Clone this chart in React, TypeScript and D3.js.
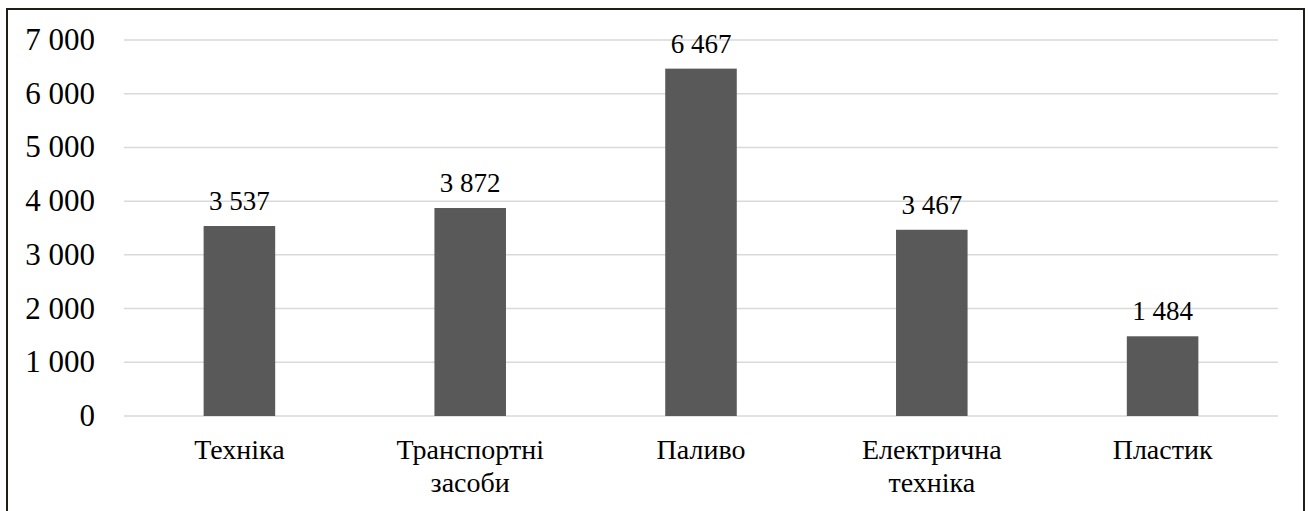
import React from "react";
import * as d3 from "d3";

const categories: string[][] = [
  ["Техніка"],
  ["Транспортні", "засоби"],
  ["Паливо"],
  ["Електрична", "техніка"],
  ["Пластик"],
];
const values: number[] = [3537, 3872, 6467, 3467, 1484];
const yTicks: number[] = [0, 1000, 2000, 3000, 4000, 5000, 6000, 7000];

const W = 1308;
const H = 511;
const plot = { left: 124, right: 1278, top: 40, bottom: 416 };
const FONT = "Liberation Serif";

const fmt = (v: number) => {
  const s = String(Math.round(v));
  return s.replace(/\B(?=(\d{3})+(?!\d))/g, " ");
};

export default function App() {
  const x = d3
    .scaleBand<number>()
    .domain(values.map((_, i) => i))
    .range([plot.left, plot.right])
    .paddingInner(0.69)
    .paddingOuter(0.345);
  const y = d3.scaleLinear().domain([0, 7000]).range([plot.bottom, plot.top]);

  return (
    <div style={{ position: "absolute", left: 0, top: 0 }}>
      <svg width={W} height={H} style={{ display: "block" }}>
        <rect x={0} y={0} width={W} height={H} fill="#ffffff" />
        <path
          d={`M7,${H + 5} L7,9 L1304,9 L1304,${H + 5}`}
          fill="none"
          stroke="#1f1f1a"
          strokeWidth={2}
        />
        {yTicks.map((t) => (
          <g key={t}>
            <line
              x1={plot.left}
              x2={plot.right}
              y1={y(t)}
              y2={y(t)}
              stroke="#d9d9d9"
              strokeWidth={1.5}
            />
            <text
              x={95}
              y={y(t) + 10}
              textAnchor="end"
              fontFamily={FONT}
              fontSize={31}
              fill="#000"
            >
              {fmt(t)}
            </text>
          </g>
        ))}
        {values.map((v, i) => {
          const cx = x(i)! + x.bandwidth() / 2;
          return (
            <g key={i}>
              <rect
                x={x(i)!}
                y={y(v)}
                width={x.bandwidth()}
                height={y(0) - y(v)}
                fill="#595959"
              />
              <text
                x={cx}
                y={y(v) - 16}
                textAnchor="middle"
                fontFamily={FONT}
                fontSize={27}
                fill="#000"
              >
                {fmt(v)}
              </text>
              <text
                x={cx}
                y={459}
                textAnchor="middle"
                fontFamily={FONT}
                fontSize={28}
                fill="#000"
              >
                {categories[i].map((line, j) => (
                  <tspan key={j} x={cx} dy={j === 0 ? 0 : 33}>
                    {line}
                  </tspan>
                ))}
              </text>
            </g>
          );
        })}
      </svg>
    </div>
  );
}
